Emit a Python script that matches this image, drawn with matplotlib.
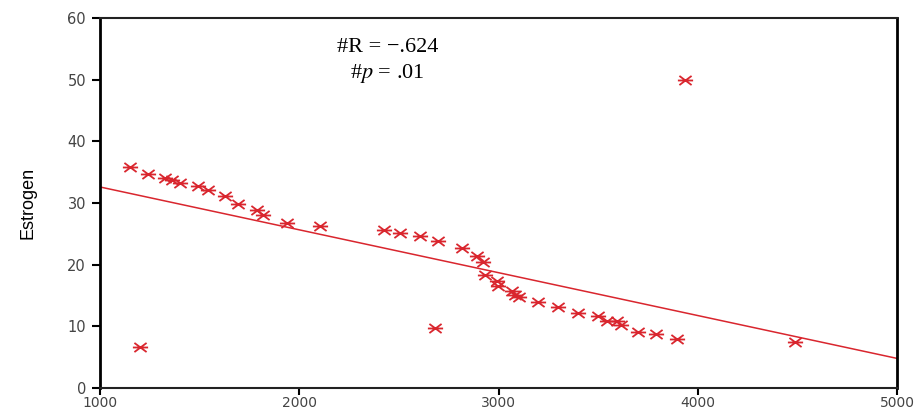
import matplotlib
matplotlib.use("Agg")
import matplotlib.pyplot as plt
from matplotlib.path import Path

# Data
body_x = [1150, 1240, 1326, 1361, 1400, 1492, 1542, 1627, 1693, 1788, 1818, 1938, 2104,
          2425, 2506, 2606, 2696, 2817, 2892, 2922, 2932, 2992, 2997, 3068, 3083, 3103,
          3198, 3299, 3399, 3499, 3545, 3595, 3615, 3700, 3790, 3896, 4488, 3936, 1200, 2681]
estrogen = [35.9, 34.7, 34.1, 33.8, 33.2, 32.8, 32.1, 31.1, 29.8, 28.8, 28.1, 26.7, 26.2,
            25.7, 25.1, 24.6, 23.9, 22.7, 21.4, 20.5, 18.4, 17.4, 16.6, 15.7, 15.1, 14.8,
            13.9, 13.1, 12.1, 11.6, 10.8, 10.8, 10.2, 9.1, 8.7, 7.9, 7.4, 50.0, 6.7, 9.8]
fit_x = [1000, 5000]
fit_y = [32.6, 4.8]
x_ticks = [1000, 2000, 3000, 4000, 5000]
y_ticks = [0, 10, 20, 30, 40, 50, 60]
annot_r = "#R = \u2212.624"
annot_p = "#$p$ = .01"
y_label = "Estrogen"

plt.rcParams['mathtext.fontset'] = 'stix'
red = '#d9262e'

fig = plt.figure(figsize=(9.22, 4.12), dpi=100)
ax = fig.add_axes([100/922, 1-388/412, 797/922, 370/412])

star = Path([(-1, 0), (1, 0), (-0.8, -0.6), (0.8, 0.6), (-0.8, 0.6), (0.8, -0.6)],
            [Path.MOVETO, Path.LINETO, Path.MOVETO, Path.LINETO, Path.MOVETO, Path.LINETO])

ax.plot(fit_x, fit_y, color=red, lw=1.1, zorder=2)
ax.scatter(body_x, estrogen, marker=star, s=120, color=red, linewidths=1.3, zorder=3)

ax.set_xlim(1000, 5000)
ax.set_ylim(0, 60)
ax.set_xticks(x_ticks)
ax.set_yticks(y_ticks)
for lab in ax.get_xticklabels() + ax.get_yticklabels():
    lab.set_family('DejaVu Sans')
    lab.set_fontsize(10.5)
    lab.set_color('#444444')
for lab in ax.get_xticklabels():
    lab.set_fontsize(10)
ax.tick_params(axis='y', direction='out', length=6, width=1.5, color='black', pad=4)
ax.tick_params(axis='x', direction='out', length=5, width=1.5, color='black', pad=0.5)

for side in ['left', 'right']:
    ax.spines[side].set_linewidth(2.0)
    ax.spines[side].set_color('black')
for side in ['top', 'bottom']:
    ax.spines[side].set_linewidth(1.5)
    ax.spines[side].set_color('#222222')

ax.set_ylabel(y_label, family='Liberation Sans', fontsize=13, color='black', labelpad=22)

ax.text(0.361, 0.919, annot_r, transform=ax.transAxes, ha='center', va='center',
        family='Liberation Serif', fontsize=16)
ax.text(0.361, 0.851, annot_p, transform=ax.transAxes, ha='center', va='center',
        family='Liberation Serif', fontsize=16)

fig.savefig('out.png', dpi=100)
